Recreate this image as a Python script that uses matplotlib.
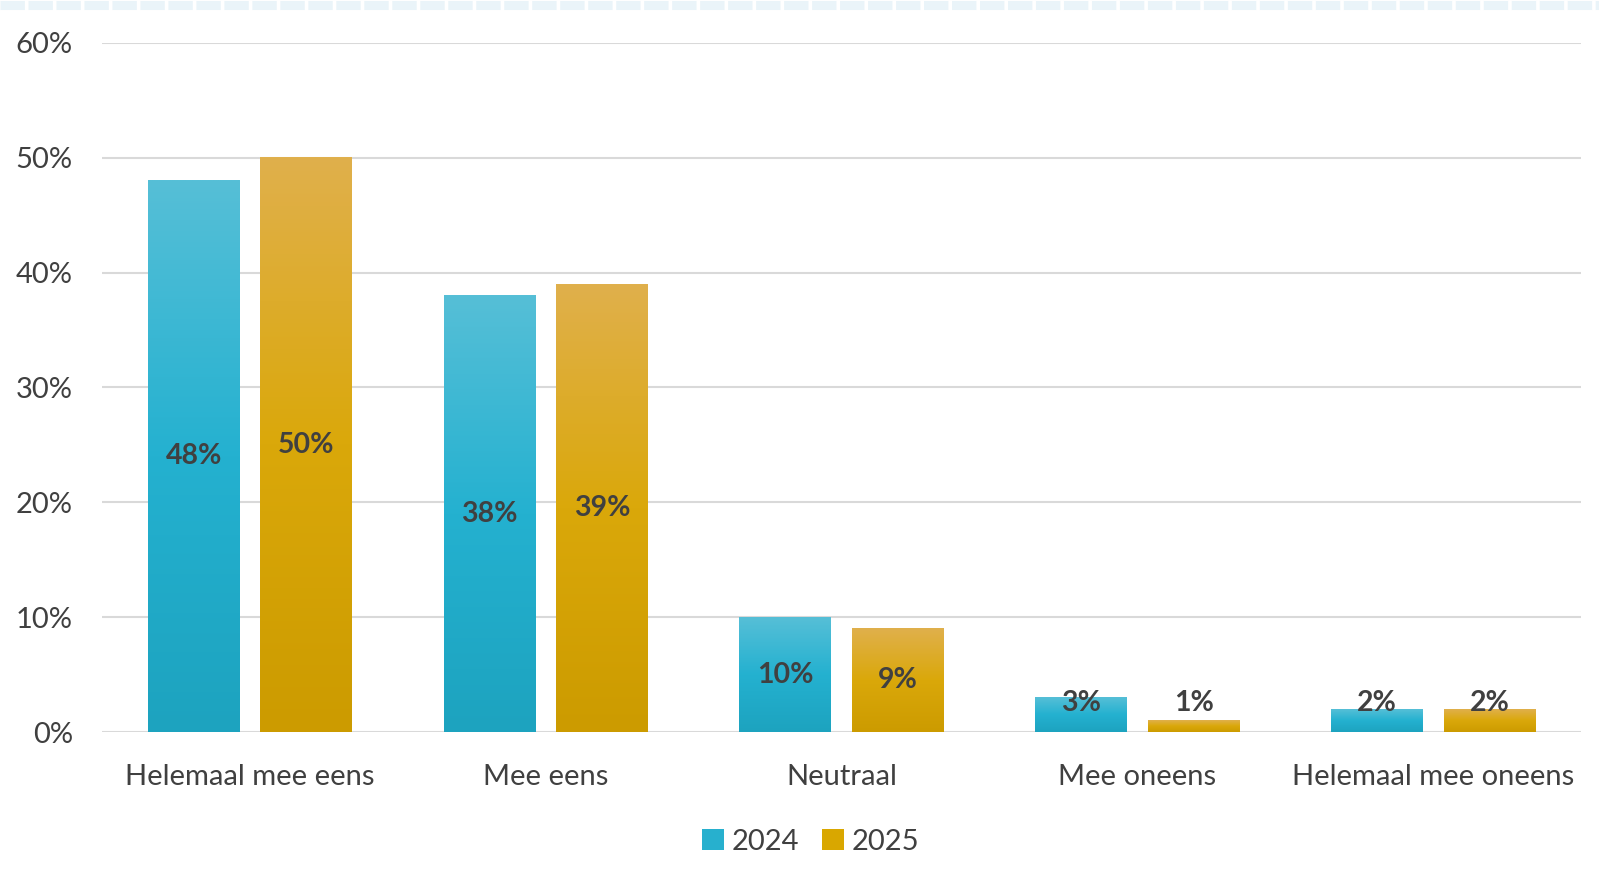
import matplotlib
matplotlib.use('Agg')
import matplotlib.pyplot as plt
import numpy as np
from matplotlib.colors import LinearSegmentedColormap
from matplotlib.patches import Patch
from matplotlib.lines import Line2D

categories = ['Helemaal mee eens', 'Mee eens', 'Neutraal', 'Mee oneens', 'Helemaal mee oneens']
values_2024 = [48, 38, 10, 3, 2]
values_2025 = [50, 39, 9, 1, 2]
series_names = ['2024', '2025']
yticks = [0, 10, 20, 30, 40, 50, 60]

plt.rcParams['font.family'] = ['Lato', 'DejaVu Sans']
text_color = '#404040'

grad_2024 = LinearSegmentedColormap.from_list('g24', ['#1DA3BF', '#24B1D0', '#56BFD7'])
grad_2025 = LinearSegmentedColormap.from_list('g25', ['#CC9B00', '#DAA80A', '#E0B04C'])

fig = plt.figure(figsize=(15.99, 8.75), dpi=100)
ax = fig.add_axes([0.0638, 0.1634, 0.925, 0.7875])

x = np.arange(len(categories))
width = 0.31
offset = 0.19

bars24 = ax.bar(x - offset, values_2024, width, color='none', zorder=3)
bars25 = ax.bar(x + offset, values_2025, width, color='none', zorder=3)

grad = np.linspace(0, 1, 256).reshape(-1, 1)
for bars, cmap in [(bars24, grad_2024), (bars25, grad_2025)]:
    for b in bars:
        x0, y0 = b.get_x(), b.get_y()
        w, h = b.get_width(), b.get_height()
        ax.imshow(grad, cmap=cmap, origin='lower', aspect='auto',
                  extent=[x0, x0 + w, y0, y0 + h], zorder=3, interpolation='bilinear')
        # centred label, kept clear of the axis for very short bars
        ax.text(x0 + w / 2, max(y0 + h / 2, 2.5), f'{int(h)}%', ha='center', va='center',
                fontsize=20.5, fontweight='bold', color=text_color, zorder=5)

ax.set_xlim(-0.5, len(categories) - 0.5)
ax.set_ylim(0, 60)
ax.set_yticks(yticks)
ax.set_yticklabels([f'{t}%' for t in yticks], fontsize=21, color=text_color)
ax.set_xticks(x)
ax.set_xticklabels(categories, fontsize=21, color=text_color)
ax.tick_params(axis='both', length=0)
ax.tick_params(axis='x', pad=23)
ax.tick_params(axis='y', pad=21)
ax.grid(axis='y', color='#D9D9D9', linewidth=1.5, zorder=0)
ax.set_axisbelow(True)
for s in ax.spines.values():
    s.set_visible(False)

handles = [Patch(facecolor='#27B0CE', edgecolor='none'),
           Patch(facecolor='#D9A700', edgecolor='none')]
fig.legend(handles, series_names, loc='center', bbox_to_anchor=(0.507, 0.038), ncol=2,
           frameon=False, fontsize=21, labelcolor=text_color, handlelength=0.75,
           handleheight=0.75, handletextpad=0.25, columnspacing=0.8)

# light dashed band at the top edge
band = Line2D([0, 1], [1 - 4.5 / 875, 1 - 4.5 / 875], transform=fig.transFigure,
              color='#EAF4F9', linewidth=6.5, dashes=(2.7, 0.4), solid_capstyle='butt')
fig.lines.append(band)

fig.savefig('out.png', dpi=100)
